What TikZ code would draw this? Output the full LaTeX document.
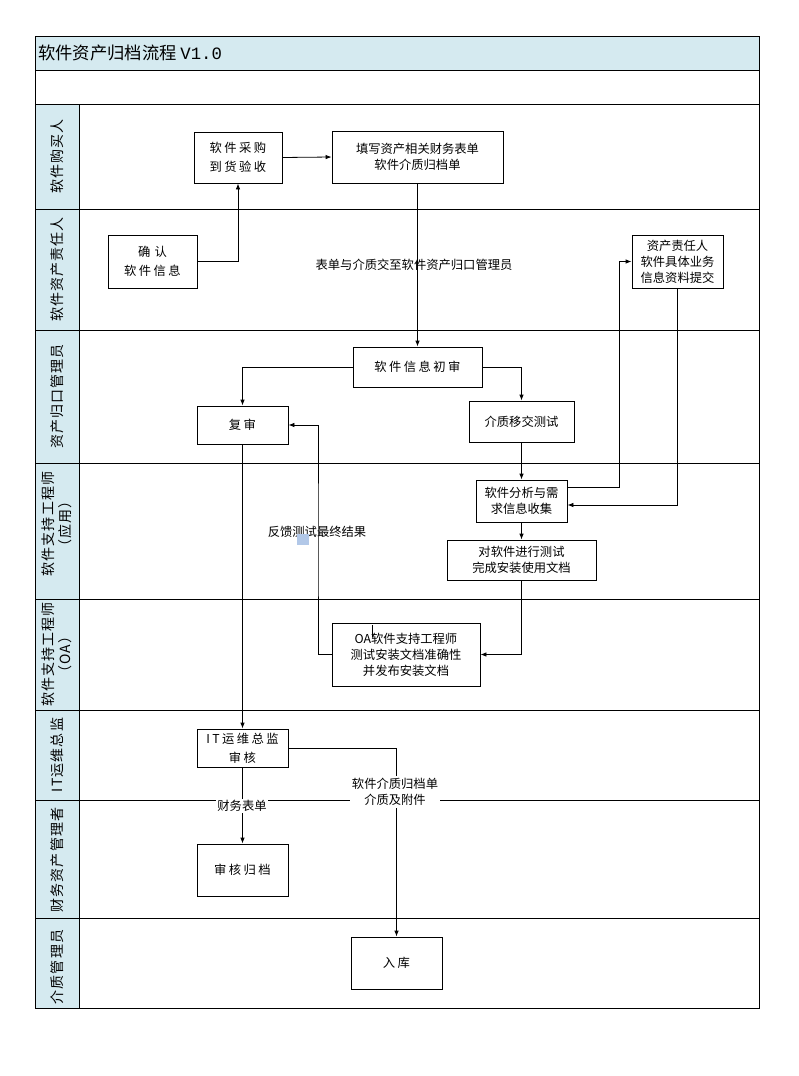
\documentclass[tikz,border=0pt]{standalone}
\usepackage{fontspec}
\setmainfont{Noto Sans CJK SC}
\newfontfamily\cjkw[LetterSpace=20]{Noto Sans CJK SC}
\newfontfamily\cjkl[LetterSpace=8]{Noto Sans CJK SC}
\setmonofont{Liberation Mono}
\usetikzlibrary{arrows.meta}
\definecolor{lanebg}{RGB}{213,234,240}
\definecolor{iconbg}{RGB}{178,200,232}
\tikzset{
  box/.style={draw, line width=0.8pt, fill=white, inner sep=0pt, align=center, font=\fontsize{12.3}{16}\selectfont},
  wbox/.style={box, font=\fontsize{12.3}{19}\selectfont\cjkw},
  arr/.style={-{Latex[length=6pt,width=4.5pt]}, line width=0.8pt},
  ln/.style={line width=0.8pt},
  lane/.style={rotate=90, align=center, font=\fontsize{14}{17}\selectfont\cjkl, inner sep=0pt},
  lbl/.style={align=center, font=\fontsize{12.3}{16}\selectfont, inner sep=1pt},
}
\begin{document}
\begin{tikzpicture}[x=1pt,y=-1pt]
\useasboundingbox (0,0) rectangle (798,1076);
% frame
\fill[lanebg] (35,36) rectangle (759,70);
\fill[lanebg] (35,104) rectangle (79,1008);
\draw[ln] (35,36) rectangle (759,1008);
\draw[ln] (35,70) -- (759,70);
\draw[ln] (35,104) -- (759,104);
\draw[ln] (79,104) -- (79,1008);
\foreach \yy in {209,330,463,599,710,800,918} {\draw[ln] (35,\yy) -- (759,\yy);}
\node[anchor=west, inner sep=0pt, font=\fontsize{17.3}{20}\selectfont] (title) at (38,53) {软件资产归档流程\ {\ttfamily V1.0}};
% lane labels
\node[lane] (l1) at (57,156.5) {软件购买人};
\node[lane] (l2) at (57,269.5) {软件资产责任人};
\node[lane] (l3) at (57,396.5) {资产归口管理员};
\node[lane] (l4) at (57,524) {软件支持工程师\\（应用）};
\node[lane] (l5) at (57,654.5) {软件支持工程师\\（OA）};
\node[lane] (l6) at (57,755) {IT运维总监};
\node[lane] (l7) at (57,860) {财务资产管理者};
\node[lane] (l8) at (57,967) {介质管理员};
% boxes
\node[wbox, minimum width=88pt, minimum height=51pt] (buy) at (238,157.5) {软件采购\\到货验收};
\node[box, minimum width=171pt, minimum height=52pt] (fill) at (417.5,157) {填写资产相关财务表单\\软件介质归档单};
\node[wbox, minimum width=89pt, minimum height=53pt] (confirm) at (152.5,261.5) {确\,\,认\\软件信息};
\node[box, minimum width=91pt, minimum height=53pt] (owner) at (677.5,261.5) {资产责任人\\软件具体业务\\信息资料提交};
\node[wbox, minimum width=129pt, minimum height=40pt] (init) at (417.5,367) {软件信息初审};
\node[wbox, minimum width=91pt, minimum height=38pt] (review) at (242.5,425) {复审};
\node[box, minimum width=105pt, minimum height=41pt] (media) at (521.5,421.5) {介质移交测试};
\node[box, minimum width=91pt, minimum height=42pt] (anal) at (521.5,501) {软件分析与需\\求信息收集};
\node[box, minimum width=149pt, minimum height=40pt] (test) at (521.5,560) {对软件进行测试\\完成安装使用文档};
\node[box, minimum width=148pt, minimum height=63pt] (oa) at (406,654.5) {OA软件支持工程师\\测试安装文档准确性\\并发布安装文档};
\node[wbox, minimum width=91pt, minimum height=38pt] (it) at (242.5,748) {IT运维总监\\审核};
\node[wbox, minimum width=91pt, minimum height=52pt] (arch) at (242.5,870) {审核归档};
\node[wbox, minimum width=91pt, minimum height=52pt] (store) at (396.5,963) {入库};
% helper coordinates
\coordinate (up) at (619,300);
\coordinate (fb) at (318,540);
\coordinate (tk1) at (372,625);
\coordinate (tk2) at (372,637);
% connectors
\draw[arr] (confirm.east) -| (buy.south);
\draw[arr] (buy.east) -- (fill.west);
\draw[arr] (fill.south) -- (init.north);
\draw[arr] (init.west) -| (review.north);
\draw[arr] (init.east) -| (media.north);
\draw[arr] (media.south) -- (anal.north);
\draw[arr] ([yshift=14pt]anal.east) -| (up |- owner.west) -- (owner.west);
\draw[arr] (owner.south) |- ([yshift=-4pt]anal.east);
\draw[arr] (anal.south) -- (test.north);
\draw[arr] (test.south) |- (oa.east);
\draw[arr] (oa.west) -| (fb) |- (review.east);
\draw[arr] (review.south) -- (it.north);
\draw[arr] (it.south) -- (arch.north);
\draw[arr] (it.east) -| (store.north);
\draw[ln] (tk1) -- (tk2);
% labels
\node[lbl] (t1) at (414,265) {表单与介质交至软件资产归口管理员};
\node[lbl] (t2) at (317,532) {反馈测试最终结果};
\fill[iconbg] (297,534) rectangle (309,545);
\node[lbl, fill=white] (t3) at (242,806) {财务表单};
\node[lbl, fill=white, inner sep=2pt] (t4) at (395,792) {软件介质归档单\\介质及附件};
\end{tikzpicture}
\end{document}
